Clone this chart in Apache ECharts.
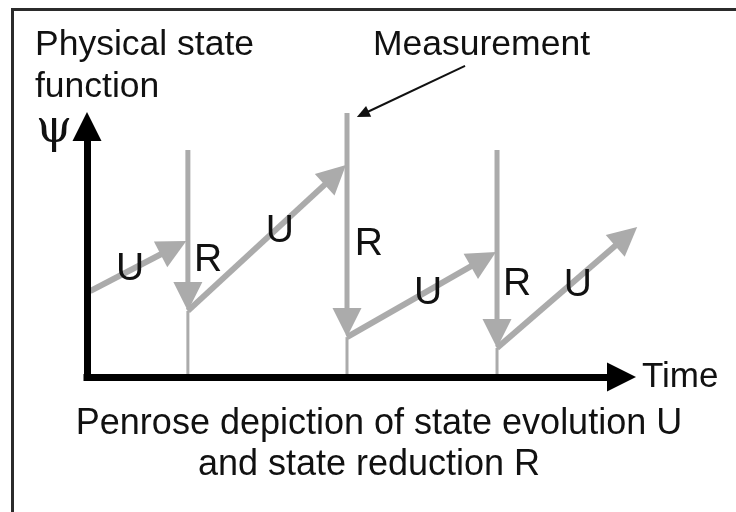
<!DOCTYPE html>
<html>
<head>
<meta charset="utf-8">
<script src="https://cdn.jsdelivr.net/npm/echarts@6.0.0/dist/echarts.min.js"></script>
<style>
  html, body { margin: 0; padding: 0; background: #fff; }
  #chart { width: 736px; height: 512px; }
</style>
</head>
<body>
<div id="chart"></div>
<script>
// times of the three measurements (the R jumps)
const measureTime = [1.94, 5.0, 7.885];
// top of each vertical measurement line
const measureTop = [9.62, 11.19, 9.62];
// psi right after each reduction R
const psiAfterR = [2.80, 1.69, 1.23];
// U evolution: start of the first one, then the tip of each U arrow
const uStart = [0.06, 3.64];
const uTipTime = [1.91, 4.98, 7.865, 10.58];
const uTipPsi = [5.76, 8.98, 5.30, 6.36];
// U / R letters
const labelText = ['U', 'R', 'U', 'R', 'U', 'R', 'U'];
const labelTime = [0.83, 2.33, 3.71, 5.42, 6.56, 8.27, 9.44];
const labelPsi = [4.56, 4.96, 6.19, 5.64, 3.56, 3.94, 3.90];
// pointer from "Measurement" to the top of the second line
const noteFrom = [7.27, 13.18];
const noteTo = [5.19, 11.02];

const GRAY = '#ababab';
const FONT = 'Liberation Sans';

const chart = echarts.init(document.getElementById('chart'));

const uData = uTipTime.map((t, i) => i === 0
  ? [uStart[0], uStart[1], t, uTipPsi[i]]
  : [measureTime[i - 1], psiAfterR[i - 1], t, uTipPsi[i]]);
const rData = measureTime.map((t, i) => [t, measureTop[i], t, psiAfterR[i]]);
const stemData = measureTime.map((t, i) => [t, psiAfterR[i], t, 0]);
const labelData = labelTime.map((t, i) => [t, labelPsi[i]]);

// line with a solid triangle head whose tip sits on the end point
function arrowRenderer(color, width, headLen, headHalf) {
  return function (params, api) {
    const a = api.coord([api.value(0), api.value(1)]);
    const b = api.coord([api.value(2), api.value(3)]);
    const dx = b[0] - a[0], dy = b[1] - a[1];
    const len = Math.sqrt(dx * dx + dy * dy) || 1;
    const ux = dx / len, uy = dy / len;
    const bx = b[0] - ux * headLen, by = b[1] - uy * headLen;
    const end = headLen ? [bx + ux * 2, by + uy * 2] : b;
    const children = [{
      type: 'line',
      shape: { x1: a[0], y1: a[1], x2: end[0], y2: end[1] },
      style: { stroke: color, lineWidth: width }
    }];
    if (headLen) {
      children.push({
        type: 'polygon',
        shape: { points: [[b[0], b[1]], [bx - uy * headHalf, by + ux * headHalf], [bx + uy * headHalf, by - ux * headHalf]] },
        style: { fill: color }
      });
    }
    return { type: 'group', children: children };
  };
}

const titleStyle = { fontSize: 35, lineHeight: 42, fontWeight: 'normal', color: '#111', fontFamily: FONT };

const option = {
  animation: false,
  backgroundColor: '#fff',
  title: [
    { text: 'Physical state\nfunction', left: 35, top: 24, padding: 0,
      textStyle: Object.assign({}, titleStyle, { fontSize: 35.5 }) },
    { text: 'Measurement', left: 373, top: 24, padding: 0,
      textStyle: Object.assign({}, titleStyle, { fontSize: 35.5 }) },
    { text: 'ψ', left: 36, top: 108, padding: 0,
      textStyle: { fontSize: 46, lineHeight: 44, fontWeight: 'normal', color: '#111', fontFamily: 'DejaVu Serif' } },
    { text: 'Penrose depiction of state evolution U', left: 379, top: 403, textAlign: 'center', padding: 0,
      textStyle: Object.assign({}, titleStyle, { fontSize: 36 }) },
    { text: 'and state reduction R', left: 369, top: 444, textAlign: 'center', padding: 0,
      textStyle: Object.assign({}, titleStyle, { fontSize: 36 }) }
  ],
  graphic: [{
    type: 'rect', silent: true,
    shape: { x: 12.5, y: 9.5, width: 760, height: 560 },
    style: { fill: 'none', stroke: '#2b2b2b', lineWidth: 3 }
  }],
  grid: { left: 87, right: 129, top: 141, bottom: 135 },
  xAxis: {
    type: 'value', min: 0, max: 10, z: 5,
    name: 'Time', nameLocation: 'end', nameGap: 35,
    nameTextStyle: { fontSize: 35, color: '#111', fontFamily: FONT, padding: [0, 0, 22, 0], verticalAlign: 'middle', align: 'left' },
    axisLine: {
      onZero: false, symbol: ['none', 'triangle'], symbolSize: [29, 29], symbolOffset: [0, 14.5],
      lineStyle: { color: '#000', width: 7, cap: 'square' }
    },
    axisTick: { show: false }, axisLabel: { show: false }, splitLine: { show: false }
  },
  yAxis: {
    type: 'value', min: 0, max: 10, z: 5,
    axisLine: {
      onZero: false, symbol: ['none', 'triangle'], symbolSize: [29, 29], symbolOffset: [0, 14.5],
      lineStyle: { color: '#000', width: 7, cap: 'square' }
    },
    axisTick: { show: false }, axisLabel: { show: false }, splitLine: { show: false }
  },
  series: [
    { type: 'custom', name: 'stems', data: stemData, renderItem: arrowRenderer(GRAY, 3, 0, 0) },
    { type: 'custom', name: 'U', data: uData, renderItem: arrowRenderer(GRAY, 6, 29, 14.5) },
    { type: 'custom', name: 'R', data: rData, renderItem: arrowRenderer(GRAY, 5, 29, 14.5) },
    { type: 'custom', name: 'note', data: [[noteFrom[0], noteFrom[1], noteTo[0], noteTo[1]]],
      renderItem: arrowRenderer('#111', 2, 13, 6) },
    {
      type: 'custom', name: 'labels', data: labelData,
      renderItem: function (params, api) {
        const p = api.coord([api.value(0), api.value(1)]);
        return {
          type: 'text', x: p[0], y: p[1],
          style: { text: labelText[params.dataIndex], fill: '#111', font: '39px "Liberation Sans"', align: 'center', verticalAlign: 'middle' }
        };
      }
    }
  ]
};

chart.setOption(option);
</script>
</body>
</html>
